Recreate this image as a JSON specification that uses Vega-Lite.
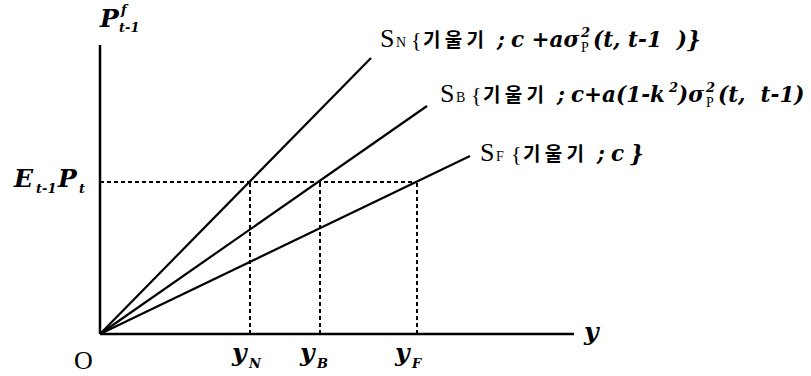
{
  "$schema": "https://vega.github.io/schema/vega-lite/v6.json",
  "width": 811,
  "height": 376,
  "padding": 0,
  "autosize": {"type": "none"},
  "background": "white",
  "config": {"view": {"stroke": null}},
  "datasets": {
    "segs": [
      {"id": "SN", "k": "solid", "o": 0, "x": 0, "y": 0},
      {"id": "SN", "k": "solid", "o": 1, "x": 2.71, "y": 2.76},
      {"id": "SB", "k": "solid", "o": 0, "x": 0, "y": 0},
      {"id": "SB", "k": "solid", "o": 1, "x": 3.27, "y": 2.28},
      {"id": "SF", "k": "solid", "o": 0, "x": 0, "y": 0},
      {"id": "SF", "k": "solid", "o": 1, "x": 3.70, "y": 1.78},
      {"id": "axY", "k": "axis", "o": 0, "x": 0, "y": 0},
      {"id": "axY", "k": "axis", "o": 1, "x": 0, "y": 2.89},
      {"id": "axX", "k": "axis", "o": 0, "x": 0, "y": 0},
      {"id": "axX", "k": "axis", "o": 1, "x": 4.74, "y": 0},
      {"id": "dH", "k": "dash", "o": 0, "x": 0, "y": 1.52},
      {"id": "dH", "k": "dash", "o": 1, "x": 3.17, "y": 1.52},
      {"id": "dN", "k": "dash", "o": 0, "x": 1.50, "y": 0},
      {"id": "dN", "k": "dash", "o": 1, "x": 1.50, "y": 1.52},
      {"id": "dB", "k": "dash", "o": 0, "x": 2.20, "y": 0},
      {"id": "dB", "k": "dash", "o": 1, "x": 2.20, "y": 1.52},
      {"id": "dF", "k": "dash", "o": 0, "x": 3.17, "y": 0},
      {"id": "dF", "k": "dash", "o": 1, "x": 3.17, "y": 1.52}
    ],
    "labels": [
      {"t": "P", "x": 0.00, "y": 3.07, "s": "mathBig"},
      {"t": "f", "x": 0.21, "y": 3.20, "s": "mathSub"},
      {"t": "t-1", "x": 0.19, "y": 3.02, "s": "mathSub"},
      {"t": "E", "x": -0.86, "y": 1.47, "s": "mathBig"},
      {"t": "t-1", "x": -0.64, "y": 1.41, "s": "mathSub"},
      {"t": "P", "x": -0.42, "y": 1.47, "s": "mathBig"},
      {"t": "t", "x": -0.21, "y": 1.41, "s": "mathSub"},
      {"t": "O", "x": -0.26, "y": -0.35, "s": "serifBig"},
      {"t": "y", "x": 4.84, "y": -0.06, "s": "mathBig"},
      {"t": "y", "x": 1.32, "y": -0.27, "s": "mathBig"},
      {"t": "N", "x": 1.49, "y": -0.34, "s": "mathSub"},
      {"t": "y", "x": 2.00, "y": -0.27, "s": "mathBig"},
      {"t": "B", "x": 2.17, "y": -0.34, "s": "mathSub"},
      {"t": "y", "x": 2.95, "y": -0.27, "s": "mathBig"},
      {"t": "F", "x": 3.12, "y": -0.34, "s": "mathSub"},
      {"t": "S", "x": 2.80, "y": 2.87, "s": "serifBig"},
      {"t": "N", "x": 2.96, "y": 2.87, "s": "serifSub"},
      {"t": "{", "x": 3.11, "y": 2.87, "s": "bracket"},
      {"t": "기 울 기", "x": 3.23, "y": 2.87, "s": "korean"},
      {"t": ";", "x": 3.97, "y": 2.87, "s": "math"},
      {"t": "c +aσ", "x": 4.11, "y": 2.87, "s": "math"},
      {"t": "2", "x": 4.81, "y": 2.97, "s": "mathSub"},
      {"t": "P", "x": 4.81, "y": 2.82, "s": "serifSub"},
      {"t": "(t, t-1\u00a0 )}", "x": 4.93, "y": 2.87, "s": "math"},
      {"t": "S", "x": 3.40, "y": 2.32, "s": "serifBig"},
      {"t": "B", "x": 3.56, "y": 2.32, "s": "serifSub"},
      {"t": "{", "x": 3.71, "y": 2.32, "s": "bracket"},
      {"t": "기 울 기", "x": 3.83, "y": 2.32, "s": "korean"},
      {"t": ";", "x": 4.57, "y": 2.32, "s": "math"},
      {"t": "c+a(1-k", "x": 4.71, "y": 2.32, "s": "math"},
      {"t": "2", "x": 5.69, "y": 2.42, "s": "mathSub"},
      {"t": ")σ", "x": 5.78, "y": 2.32, "s": "math"},
      {"t": "2", "x": 6.06, "y": 2.42, "s": "mathSub"},
      {"t": "P", "x": 6.06, "y": 2.27, "s": "serifSub"},
      {"t": "(t,\u00a0 t-1)", "x": 6.18, "y": 2.32, "s": "math"},
      {"t": "S", "x": 3.80, "y": 1.73, "s": "serifBig"},
      {"t": "F", "x": 3.96, "y": 1.73, "s": "serifSub"},
      {"t": "{", "x": 4.11, "y": 1.73, "s": "bracket"},
      {"t": "기 울 기", "x": 4.23, "y": 1.73, "s": "korean"},
      {"t": ";", "x": 4.97, "y": 1.73, "s": "math"},
      {"t": "c", "x": 5.11, "y": 1.73, "s": "math"},
      {"t": "}", "x": 5.30, "y": 1.73, "s": "math"}
    ]
  },
  "encoding": {
    "x": {"field": "x", "type": "quantitative", "scale": {"domain": [-1, 7.11], "nice": false, "zero": false}, "axis": null},
    "y": {"field": "y", "type": "quantitative", "scale": {"domain": [-0.42, 3.34], "nice": false, "zero": false}, "axis": null}
  },
  "layer": [
    {
      "data": {"name": "segs"},
      "transform": [{"filter": "datum.k === 'solid'"}],
      "mark": {"type": "line", "color": "black", "strokeWidth": 2.2},
      "encoding": {"detail": {"field": "id"}, "order": {"field": "o"}}
    },
    {
      "data": {"name": "segs"},
      "transform": [{"filter": "datum.k === 'axis'"}],
      "mark": {"type": "line", "color": "black", "strokeWidth": 2.5},
      "encoding": {"detail": {"field": "id"}, "order": {"field": "o"}}
    },
    {
      "data": {"name": "segs"},
      "transform": [{"filter": "datum.k === 'dash'"}],
      "mark": {"type": "line", "color": "black", "strokeWidth": 2, "strokeDash": [4, 3]},
      "encoding": {"detail": {"field": "id"}, "order": {"field": "o"}}
    },
    {
      "data": {"name": "labels"},
      "transform": [{"filter": "datum.s === 'mathBig'"}],
      "mark": {"type": "text", "align": "left", "baseline": "alphabetic", "font": "DejaVu Serif", "fontStyle": "italic", "fontWeight": "bold", "fontSize": 25, "color": "black"},
      "encoding": {"text": {"field": "t"}}
    },
    {
      "data": {"name": "labels"},
      "transform": [{"filter": "datum.s === 'mathSub'"}],
      "mark": {"type": "text", "align": "left", "baseline": "alphabetic", "font": "DejaVu Serif", "fontStyle": "italic", "fontWeight": "bold", "fontSize": 13, "color": "black"},
      "encoding": {"text": {"field": "t"}}
    },
    {
      "data": {"name": "labels"},
      "transform": [{"filter": "datum.s === 'serifBig'"}],
      "mark": {"type": "text", "align": "left", "baseline": "alphabetic", "font": "Liberation Serif", "fontSize": 26, "color": "black"},
      "encoding": {"text": {"field": "t"}}
    },
    {
      "data": {"name": "labels"},
      "transform": [{"filter": "datum.s === 'serifSub'"}],
      "mark": {"type": "text", "align": "left", "baseline": "alphabetic", "font": "Liberation Serif", "fontSize": 14, "color": "black"},
      "encoding": {"text": {"field": "t"}}
    },
    {
      "data": {"name": "labels"},
      "transform": [{"filter": "datum.s === 'bracket'"}],
      "mark": {"type": "text", "align": "left", "baseline": "alphabetic", "font": "Liberation Serif", "fontSize": 22, "color": "black"},
      "encoding": {"text": {"field": "t"}}
    },
    {
      "data": {"name": "labels"},
      "transform": [{"filter": "datum.s === 'korean'"}],
      "mark": {"type": "text", "align": "left", "baseline": "alphabetic", "font": "Noto Sans CJK KR", "fontWeight": "bold", "fontSize": 19, "color": "black"},
      "encoding": {"text": {"field": "t"}}
    },
    {
      "data": {"name": "labels"},
      "transform": [{"filter": "datum.s === 'math'"}],
      "mark": {"type": "text", "align": "left", "baseline": "alphabetic", "font": "DejaVu Serif", "fontStyle": "italic", "fontWeight": "bold", "fontSize": 21.5, "color": "black"},
      "encoding": {"text": {"field": "t"}}
    }
  ]
}
